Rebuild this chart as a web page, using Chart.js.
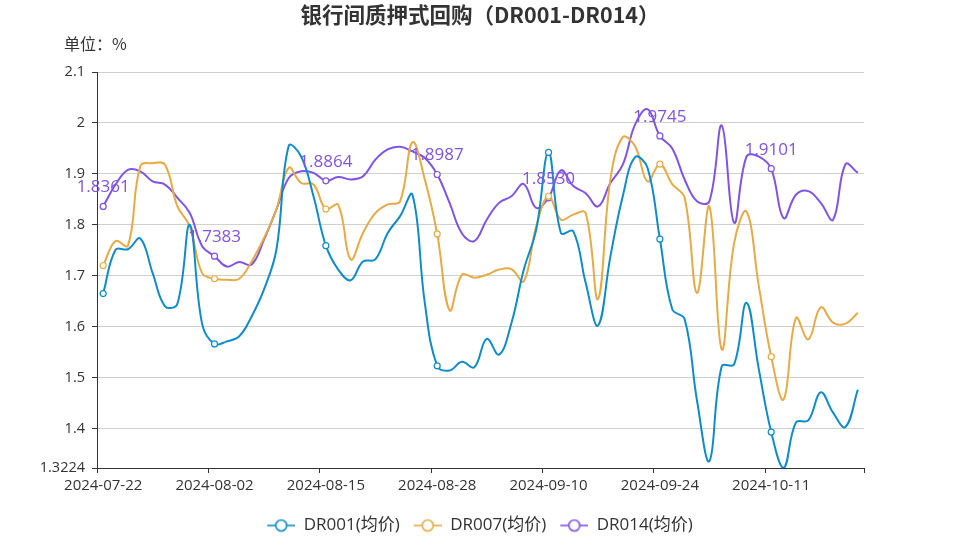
<!DOCTYPE html>
<html>
<head>
<meta charset="utf-8">
<script src="https://cdn.jsdelivr.net/npm/chart.js@4.4.1/dist/chart.umd.min.js"></script>
<style>
  html, body { margin: 0; padding: 0; background: #fff; }
</style>
</head>
<body>
<canvas id="grafico" width="960" height="540"></canvas>
<script>
// Datos
const titulo = '银行间质押式回购（DR001-DR014）';
const unidad = '单位：%';

const fechas = [
  '2024-07-22','2024-07-23','2024-07-24','2024-07-25','2024-07-26','2024-07-29','2024-07-30','2024-07-31','2024-08-01','2024-08-02',
  '2024-08-05','2024-08-06','2024-08-07','2024-08-08','2024-08-09','2024-08-12','2024-08-13','2024-08-14','2024-08-15','2024-08-16',
  '2024-08-19','2024-08-20','2024-08-21','2024-08-22','2024-08-23','2024-08-26','2024-08-27','2024-08-28','2024-08-29','2024-08-30',
  '2024-09-02','2024-09-03','2024-09-04','2024-09-05','2024-09-06','2024-09-09','2024-09-10','2024-09-11','2024-09-12','2024-09-13',
  '2024-09-14','2024-09-18','2024-09-19','2024-09-20','2024-09-23','2024-09-24','2024-09-25','2024-09-26','2024-09-27','2024-09-29',
  '2024-09-30','2024-10-08','2024-10-09','2024-10-10','2024-10-11','2024-10-12','2024-10-14','2024-10-15','2024-10-16','2024-10-17',
  '2024-10-18','2024-10-21'
];

const dr001 = [
  1.665, 1.751, 1.752, 1.773, 1.705, 1.640, 1.645, 1.800, 1.605, 1.566,
  1.571, 1.581, 1.620, 1.673, 1.751, 1.955, 1.934, 1.856, 1.759, 1.712,
  1.691, 1.728, 1.732, 1.784, 1.817, 1.859, 1.646, 1.523, 1.514, 1.531,
  1.520, 1.576, 1.545, 1.607, 1.712, 1.790, 1.942, 1.784, 1.787, 1.686,
  1.602, 1.738, 1.856, 1.933, 1.912, 1.772, 1.634, 1.615, 1.455, 1.336,
  1.522, 1.526, 1.647, 1.516, 1.393, 1.3224, 1.412, 1.416, 1.471, 1.431,
  1.403, 1.476
];

const dr007 = [
  1.720, 1.768, 1.759, 1.915, 1.921, 1.918, 1.836, 1.797, 1.705, 1.694,
  1.692, 1.694, 1.728, 1.774, 1.830, 1.912, 1.882, 1.879, 1.831, 1.839,
  1.732, 1.784, 1.823, 1.840, 1.846, 1.962, 1.889, 1.782, 1.632, 1.702,
  1.696, 1.702, 1.712, 1.713, 1.689, 1.797, 1.856, 1.810, 1.820, 1.823,
  1.654, 1.889, 1.972, 1.954, 1.885, 1.919, 1.880, 1.853, 1.666, 1.836,
  1.555, 1.764, 1.826, 1.679, 1.541, 1.457, 1.617, 1.575, 1.638, 1.608,
  1.606, 1.627
];

const dr014 = [
  1.8361, 1.879, 1.908, 1.905, 1.885, 1.879, 1.853, 1.823, 1.758, 1.7383,
  1.718, 1.727, 1.722, 1.771, 1.830, 1.892, 1.905, 1.902, 1.8864, 1.894,
  1.889, 1.895, 1.928, 1.948, 1.953, 1.944, 1.931, 1.8987, 1.843, 1.783,
  1.768, 1.810, 1.843, 1.856, 1.880, 1.833, 1.8530, 1.907, 1.876, 1.862,
  1.836, 1.882, 1.918, 1.997, 2.027, 1.9745, 1.950, 1.889, 1.846, 1.846,
  1.995, 1.804, 1.934, 1.934, 1.9101, 1.813, 1.859, 1.866, 1.843, 1.810,
  1.919, 1.902
];

const series = ['DR001(均价)', 'DR007(均价)', 'DR014(均价)'];
const colores = ['#0f8cc8', '#e4ab47', '#8054e2'];
const yTicks = [1.3224, 1.4, 1.5, 1.6, 1.7, 1.8, 1.9, 2.0, 2.1];
const paso = 9; // cada cuantos puntos hay etiqueta y marcador

const fuente = '"Open Sans", "Noto Sans CJK SC", sans-serif';

// Icono de la leyenda: linea con circulo vacio (con hueco a la izquierda)
function iconoLeyenda(color) {
  const cv = document.createElement('canvas');
  cv.width = 38;
  cv.height = 14;
  const g = cv.getContext('2d');
  g.strokeStyle = color;
  g.lineWidth = 1.6;
  g.beginPath();
  g.moveTo(10, 7);
  g.lineTo(38, 7);
  g.stroke();
  g.beginPath();
  g.arc(24, 7, 5.5, 0, Math.PI * 2);
  g.fillStyle = '#fff';
  g.fill();
  g.stroke();
  return cv;
}
const iconos = colores.map(iconoLeyenda);

// Titulo, unidad y etiquetas de DR014
const textosPlugin = {
  id: 'textos',
  afterDraw(chart) {
    const c = chart.ctx;
    c.save();
    c.fillStyle = '#333';
    c.textBaseline = 'middle';
    c.textAlign = 'center';
    c.font = 'bold 21.5px "Noto Sans CJK SC", sans-serif';
    c.fillText(titulo, chart.width / 2, 15);
    c.textAlign = 'left';
    c.font = '16px "Noto Sans CJK SC", sans-serif';
    c.fillText(unidad, 64, 44);

    const meta = chart.getDatasetMeta(2);
    c.fillStyle = colores[2];
    c.textAlign = 'center';
    c.font = '17px ' + fuente;
    meta.data.forEach((p, i) => {
      if (i % paso === 0) c.fillText(dr014[i].toFixed(4), p.x, p.y - 19);
    });
    c.restore();
  }
};

function dataset(nombre, datos, i) {
  return {
    label: nombre,
    data: datos,
    borderColor: colores[i],
    backgroundColor: colores[i],
    borderWidth: 2,
    tension: 0.4,
    fill: false,
    pointRadius: ctx => (ctx.dataIndex % paso === 0 ? 3 : 0),
    pointHoverRadius: 0,
    pointBackgroundColor: '#fff',
    pointBorderColor: colores[i],
    pointBorderWidth: 1.2
  };
}

new Chart(document.getElementById('grafico'), {
  type: 'line',
  data: {
    labels: fechas,
    datasets: [
      dataset(series[0], dr001, 0),
      dataset(series[1], dr007, 1),
      dataset(series[2], dr014, 2)
    ]
  },
  options: {
    responsive: false,
    animation: false,
    events: [],
    layout: { padding: { left: 0, right: 10, top: 72, bottom: -4 } },
    plugins: {
      title: { display: false },
      tooltip: { enabled: false },
      legend: {
        position: 'bottom',
        labels: {
          usePointStyle: true,
          pointStyleWidth: 38,
          boxHeight: 14,
          padding: 4,
          color: '#333',
          font: { size: 17, family: fuente },
          generateLabels(chart) {
            const items = Chart.defaults.plugins.legend.labels.generateLabels(chart);
            return items.map((it, i) => Object.assign(it, { pointStyle: iconos[i] }));
          }
        }
      }
    },
    scales: {
      x: {
        offset: true,
        afterFit: s => { s.height = 45; },
        border: { display: true, color: '#333', width: 1 },
        grid: {
          offset: true,
          drawOnChartArea: false,
          tickLength: 5,
          tickColor: ctx => (ctx.index === undefined || ctx.index % paso === 0 ? '#333' : 'rgba(0,0,0,0)')
        },
        ticks: {
          autoSkip: false,
          maxRotation: 0,
          minRotation: 0,
          padding: 4,
          color: '#333',
          font: { size: 15, family: fuente },
          callback: (v, i) => (i % paso === 0 ? fechas[i] : '')
        }
      },
      y: {
        min: 1.3224,
        max: 2.1,
        afterFit: s => { s.width = 97; },
        afterBuildTicks: s => { s.ticks = yTicks.map(v => ({ value: v })); },
        border: { display: true, color: '#333', width: 1 },
        grid: {
          color: '#d0d0d0',
          tickColor: '#333',
          tickLength: 5
        },
        ticks: {
          padding: 7,
          color: '#333',
          font: { size: 14.5, family: fuente },
          callback: v => String(v)
        }
      },
      // eje vacio a la derecha para dejar el margen y centrar la leyenda
      margen: {
        type: 'linear',
        position: 'right',
        afterFit: s => { s.width = 86; },
        grid: { display: false },
        border: { display: false },
        ticks: { display: false }
      }
    }
  },
  plugins: [textosPlugin]
});
</script>
</body>
</html>
